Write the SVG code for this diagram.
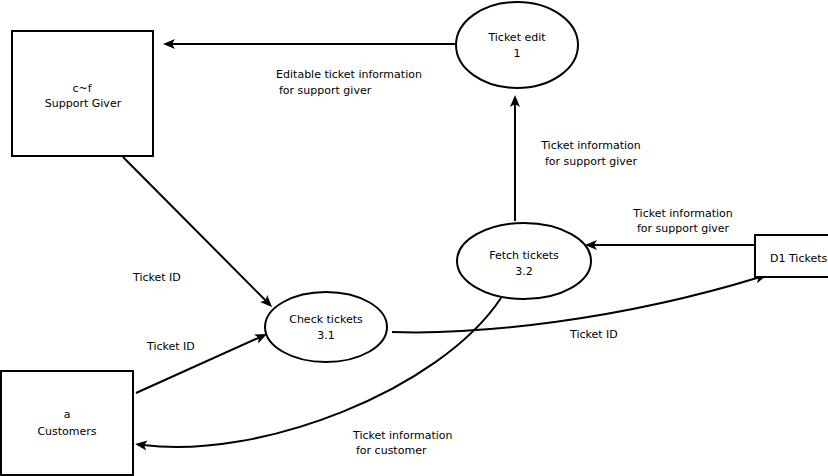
<svg xmlns="http://www.w3.org/2000/svg" width="828" height="476" viewBox="0 0 828 476">
<style>
.shape{fill:#fff;stroke:#000;stroke-width:2}
.edge{fill:none;stroke:#000;stroke-width:2}
text{font-family:"DejaVu Sans",Verdana,sans-serif;font-size:11px;fill:#000}
.c{text-anchor:middle}
</style>
<defs>
<marker id="arr" markerUnits="userSpaceOnUse" markerWidth="14" markerHeight="12" viewBox="0 0 14 12" refX="4" refY="6" orient="auto">
<path d="M12,6 L0,1 L3,6 L0,11 Z" fill="#000"/>
</marker>
</defs>
<rect width="828" height="476" fill="#fff"/>
<g id="connectors">
<path class="edge" d="M455,44 L171,44" marker-end="url(#arr)"/>
<path class="edge" d="M515,221 L515,103" marker-end="url(#arr)"/>
<path class="edge" d="M755,245 L593,245" marker-end="url(#arr)"/>
<path class="edge" d="M136,393 L259.7,337.3" marker-end="url(#arr)"/>
<path class="edge" d="M123,157 L266.4,301.3" marker-end="url(#arr)"/>
<path class="edge" d="M392,332 C480,335 620,320 759.4,277.3" marker-end="url(#arr)"/>
<path class="edge" d="M501,298 C440,390 260,460 143,445" marker-end="url(#arr)"/>
<text x="349" y="78" class="c">Editable ticket information</text>
<text x="279" y="94">for support giver</text>
<text x="591" y="149" class="c">Ticket information</text>
<text x="591" y="165" class="c">for support giver</text>
<text x="683" y="217" class="c">Ticket information</text>
<text x="683" y="232" class="c">for support giver</text>
<text x="133" y="281">Ticket ID</text>
<text x="147" y="350">Ticket ID</text>
<text x="570" y="338">Ticket ID</text>
<text x="353" y="439">Ticket information</text>
<text x="356" y="454">for customer</text>
</g>
<g id="support-giver">
<rect class="shape" x="12" y="31" width="141" height="125"/>
<text x="82" y="92" class="c">c~f</text>
<text x="83" y="107" class="c">Support Giver</text>
</g>
<g id="customers">
<rect class="shape" x="1" y="371" width="132" height="104"/>
<text x="67" y="418" class="c">a</text>
<text x="67" y="435" class="c">Customers</text>
</g>
<g id="ticket-edit">
<ellipse class="shape" cx="517" cy="45" rx="61" ry="43"/>
<text x="517" y="41" class="c">Ticket edit</text>
<text x="517" y="57" class="c">1</text>
</g>
<g id="fetch-tickets">
<ellipse class="shape" cx="524" cy="261" rx="67" ry="38"/>
<text x="524" y="259" class="c">Fetch tickets</text>
<text x="524" y="275" class="c">3.2</text>
</g>
<g id="check-tickets">
<ellipse class="shape" cx="326" cy="327" rx="61" ry="35"/>
<text x="326" y="323" class="c">Check tickets</text>
<text x="326" y="339" class="c">3.1</text>
</g>
<g id="d1-tickets">
<rect class="shape" x="755" y="235" width="90" height="42"/>
<text x="770" y="262">D1 Tickets</text>
</g>
</svg>
